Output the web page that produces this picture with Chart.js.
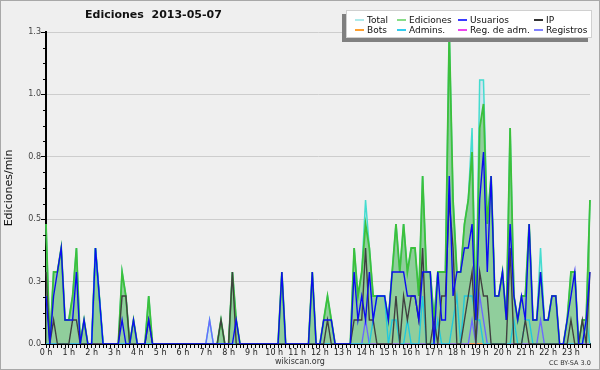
<!DOCTYPE html>
<html>
<head>
<meta charset="utf-8">
<script src="https://cdn.jsdelivr.net/npm/chart.js@4.4.0/dist/chart.umd.min.js"></script>
<style>
  html, body { margin: 0; padding: 0; background: #efefef; }
  #wrap { position: relative; width: 600px; height: 370px; background: #efefef; overflow: hidden; font-family: "DejaVu Sans", sans-serif; }
  #c { position: absolute; left: 0; top: 0; }
  #frame { position: absolute; left: 0; top: 0; width: 598px; height: 368px; border: 1px solid #a8a8a8; pointer-events: none; }
  #title { position: absolute; left: 85px; top: 8px; font-size: 11px; font-weight: bold; color: #111; white-space: pre; }
  #legend { position: absolute; left: 346px; top: 10px; width: 244px; height: 26px; background: #fff; border: 1px solid #d0d0d0; box-shadow: -4px 4px 0 #808080; font-size: 9px; color: #111; }
  .li { position: absolute; white-space: nowrap; line-height: 10px; }
  .li span.sw { position: absolute; left: -12px; top: 4px; width: 9px; height: 1.5px; }
  #foot1 { position: absolute; left: 0; width: 600px; top: 357px; text-align: center; font-size: 8px; color: #333; }
  #foot2 { position: absolute; left: 549px; top: 359px; font-size: 6.5px; color: #333; white-space: nowrap; }
</style>
</head>
<body>
<div id="wrap">
  <canvas id="c" width="600" height="370"></canvas>
  <div id="title">Ediciones  2013-05-07</div>
  <div id="legend"></div>
  <div id="foot1">wikiscan.org</div>
  <div id="foot2">CC BY-SA 3.0</div>
  <div id="frame"></div>
</div>
<script>
// ---- data: 10-minute slots, edits per minute ----
const hourLabels = ['0 h','1 h','2 h','3 h','4 h','5 h','6 h','7 h','8 h','9 h','10 h','11 h',
  '12 h','13 h','14 h','15 h','16 h','17 h','18 h','19 h','20 h','21 h','22 h','23 h'];
const yTickValues = [0, 0.26, 0.52, 0.78, 1.04, 1.3];

const total = [
 0.5,0,0.3,0.3,0.4,0.1,0.1,0.2,0.4,0,0.1,0,
 0,0.4,0.2,0,0,0,0,0,0.3,0.2,0,0.1,
 0,0,0,0.2,0,0,0,0,0,0,0,0,
 0,0,0,0,0,0,0,0.1,0,0,0.1,0,
 0,0.3,0.1,0,0,0,0,0,0,0,0,0,
 0,0,0.3,0,0,0,0,0,0,0,0.3,0,
 0,0.1,0.2,0.1,0,0,0,0,0,0.4,0.2,0.3,
 0.6,0.4,0.2,0.2,0.2,0.2,0.1,0.3,0.5,0.3,0.5,0.3,
 0.4,0.4,0.2,0.7,0.3,0.3,0.1,0.3,0.3,0.3,1.3,0.6,
 0.3,0.3,0.5,0.6,0.9,0.1,1.1,1.1,0.5,0.7,0.2,0.2,
 0.3,0.1,0.9,0.2,0.1,0.2,0.2,0.5,0.1,0.1,0.4,0.1,
 0.1,0.2,0.2,0,0,0.1,0.3,0.3,0,0.1,0.1,0.6];
const ediciones = [
 0.5,0,0.3,0.3,0.4,0.1,0.1,0.2,0.4,0,0.1,0,
 0,0.4,0.2,0,0,0,0,0,0.3,0.2,0,0.1,
 0,0,0,0.2,0,0,0,0,0,0,0,0,
 0,0,0,0,0,0,0,0,0,0,0.1,0,
 0,0.3,0.1,0,0,0,0,0,0,0,0,0,
 0,0,0.3,0,0,0,0,0,0,0,0.3,0,
 0,0.1,0.2,0.1,0,0,0,0,0,0.4,0.2,0.3,
 0.5,0.4,0.2,0.2,0.2,0.2,0.1,0.3,0.5,0.3,0.5,0.3,
 0.4,0.4,0.2,0.7,0.3,0.3,0.1,0.3,0.3,0.3,1.3,0.6,
 0.3,0.3,0.5,0.6,0.8,0.1,0.9,1.0,0.5,0.7,0.2,0.2,
 0.3,0.1,0.9,0.2,0.1,0.2,0.2,0.5,0.1,0.1,0.3,0.1,
 0.1,0.2,0.2,0,0,0.1,0.3,0.3,0,0.1,0.1,0.6];
const usuarios = [
 0.2,0,0.2,0.3,0.4,0.1,0.1,0.1,0.3,0,0.1,0,
 0,0.4,0.2,0,0,0,0,0,0.1,0,0,0.1,
 0,0,0,0.1,0,0,0,0,0,0,0,0,
 0,0,0,0,0,0,0,0,0,0,0,0,
 0,0,0.1,0,0,0,0,0,0,0,0,0,
 0,0,0.3,0,0,0,0,0,0,0,0.3,0,
 0,0.1,0.1,0.1,0,0,0,0,0,0.3,0.1,0.2,
 0.1,0.3,0.1,0.2,0.2,0.2,0.1,0.3,0.3,0.3,0.3,0.2,
 0.2,0.2,0.1,0.3,0.3,0.3,0,0.3,0.1,0.1,0.7,0.2,
 0.3,0.3,0.4,0.4,0.5,0.1,0.6,0.8,0.3,0.7,0.2,0.2,
 0.3,0.1,0.5,0.2,0.1,0.2,0.1,0.5,0.1,0.1,0.3,0.1,
 0.1,0.2,0.2,0,0,0.1,0.2,0.3,0,0,0.1,0.3];
const ip = [
 0.3,0,0.1,0,0,0,0,0.1,0.1,0,0,0,
 0,0,0,0,0,0,0,0,0.2,0.2,0,0,
 0,0,0,0.1,0,0,0,0,0,0,0,0,
 0,0,0,0,0,0,0,0,0,0,0.1,0,
 0,0.3,0,0,0,0,0,0,0,0,0,0,
 0,0,0,0,0,0,0,0,0,0,0,0,
 0,0,0.1,0,0,0,0,0,0,0.1,0.1,0.1,
 0.4,0.1,0.1,0,0,0,0,0,0.2,0,0.2,0.1,
 0.2,0.2,0.1,0.4,0,0,0.1,0,0.2,0.2,0.6,0.4,
 0,0,0.1,0.2,0.3,0,0.3,0.2,0.2,0,0,0,
 0,0,0.4,0,0,0,0.1,0,0,0,0,0,
 0,0,0,0,0,0,0.1,0,0,0.1,0,0.3];
const bots = [
 0,0,0,0,0,0,0,0,0,0,0,0, 0,0,0,0,0,0,0,0,0,0,0,0,
 0,0,0,0,0,0,0,0,0,0,0,0, 0,0,0,0,0,0,0,0,0,0,0,0,
 0,0,0,0,0,0,0,0,0,0,0,0, 0,0,0,0,0,0,0,0,0,0,0,0,
 0,0,0,0,0,0,0,0,0,0,0,0, 0,0,0,0,0,0,0,0,0,0,0,0,
 0,0,0,0,0,0,0,0,0,0,0,0, 0,0,0,0,0,0,0,0,0,0,0,0,
 0,0,0,0,0,0,0,0,0,0,0,0, 0,0,0,0,0,0,0,0,0,0,0,0];
const admins = [
 0,0,0,0,0,0,0,0,0,0,0,0,
 0,0.4,0.2,0,0,0,0,0,0,0,0,0,
 0,0,0,0,0,0,0,0,0,0,0,0,
 0,0,0,0,0,0,0,0,0,0,0,0,
 0,0,0,0,0,0,0,0,0,0,0,0,
 0,0,0,0,0,0,0,0,0,0,0,0,
 0,0,0,0,0,0,0,0,0,0,0,0,
 0,0,0.1,0.2,0.2,0.2,0,0.1,0.1,0,0,0.1,
 0,0,0,0.2,0,0,0,0.1,0,0,0,0.1,
 0.2,0,0.2,0.2,0.2,0.1,0.1,0,0,0,0,0,
 0,0,0,0.1,0,0,0.1,0.1,0,0,0,0,
 0,0,0,0,0,0,0,0,0,0,0.1,0];
const regAdm = [
 0,0,0,0,0,0,0,0,0,0,0,0, 0,0,0,0,0,0,0,0,0,0,0,0,
 0,0,0,0,0,0,0,0,0,0,0,0, 0,0,0,0,0,0,0,0,0,0,0,0,
 0,0,0,0,0,0,0,0,0,0,0,0, 0,0,0,0,0,0,0,0,0,0,0,0,
 0,0,0,0,0,0,0,0,0,0,0,0, 0,0,0,0,0,0,0,0,0,0,0,0,
 0,0,0,0,0,0,0,0,0,0,0,0, 0,0,0,0,0,0,0,0,0,0,0,0,
 0,0,0,0,0,0,0,0,0,0,0,0, 0,0,0,0,0,0,0,0,0,0,0,0];
const registros = [
 0,0,0,0,0,0,0,0,0,0,0,0,
 0,0,0,0,0,0,0,0,0,0,0,0,
 0,0,0,0,0,0,0,0,0,0,0,0,
 0,0,0,0,0,0,0,0.1,0,0,0,0,
 0,0,0,0,0,0,0,0,0,0,0,0,
 0,0,0,0,0,0,0,0,0,0,0,0,
 0,0,0,0,0,0,0,0,0,0,0,0,
 0.1,0,0,0,0,0,0,0,0,0,0,0,
 0,0,0,0,0,0,0,0,0,0,0,0,
 0,0,0,0,0.1,0,0.2,0.1,0,0,0,0,
 0,0,0,0,0,0,0,0,0,0,0.1,0,
 0,0,0,0,0,0,0,0,0,0,0,0];

// slot labels (10-minute steps) built from the hour labels
const slots = [];
hourLabels.forEach(h => { for (let m = 0; m < 60; m += 10) slots.push(h + (m ? ' ' + m : '')); });

const series = [
  { name: 'Total',        data: total,     color: '#44dccf', legend: '#aeeaea', fill: 'rgba(175,215,238,0.45)', order: 9, width: 1.5 },
  { name: 'Ediciones',    data: ediciones, color: '#3cc03c', legend: '#88dd88', fill: 'rgba(100,190,100,0.6)',  order: 8, width: 1.8 },
  { name: 'Usuarios',     data: usuarios,  color: '#0c0cf0', legend: '#3a3aff', fill: false, order: 2, width: 1.4 },
  { name: 'IP',           data: ip,        color: '#404040', legend: '#333333', fill: false, order: 3, width: 1.4 },
  { name: 'Bots',         data: bots,      color: '#ffa030', legend: '#ffa030', fill: false, order: 6, width: 1.4 },
  { name: 'Admins.',      data: admins,    color: '#22c8dc', legend: '#33ccee', fill: false, order: 4, width: 1.4 },
  { name: 'Reg. de adm.', data: regAdm,    color: '#ee44ee', legend: '#ee44ee', fill: false, order: 6, width: 1.4 },
  { name: 'Registros',    data: registros, color: '#6a6aff', legend: '#8080ff', fill: false, order: 5, width: 1.4 }
];

// legend (HTML)
const leg = document.getElementById('legend');
const colX = [20, 62, 123, 199];
const rowY = [4, 14];
series.forEach((s, k) => {
  const d = document.createElement('div');
  d.className = 'li';
  d.style.left = colX[k % 4] + 'px';
  d.style.top = rowY[Math.floor(k / 4)] + 'px';
  d.innerHTML = '<span class="sw" style="background:' + s.legend + '"></span>' + s.name;
  leg.appendChild(d);
});

const minorTicks = {
  id: 'minorTicks',
  afterDraw(chart) {
    const y = chart.scales.y, ctx = chart.ctx, left = chart.chartArea.left;
    ctx.save();
    ctx.strokeStyle = '#000';
    ctx.lineWidth = 1;
    for (let k = 0; k < yTickValues.length - 1; k++) {
      const a = yTickValues[k], b = yTickValues[k + 1];
      for (let j = 1; j < 4; j++) {
        const py = Math.round(y.getPixelForValue(a + (b - a) * j / 4)) + 0.5;
        ctx.beginPath(); ctx.moveTo(left - 3, py); ctx.lineTo(left, py); ctx.stroke();
      }
    }
    ctx.restore();
  }
};

Chart.defaults.font.family = '"DejaVu Sans", sans-serif';
new Chart(document.getElementById('c'), {
  type: 'line',
  data: {
    labels: slots,
    datasets: series.map(s => ({
      label: s.name, data: s.data, borderColor: s.color, backgroundColor: s.fill || 'transparent',
      fill: s.fill ? 'origin' : false, borderWidth: s.width, pointRadius: 0, tension: 0, order: s.order
    }))
  },
  options: {
    responsive: false, animation: false, devicePixelRatio: 1,
    layout: { padding: { top: 32, right: 10, left: 0, bottom: 0 } },
    plugins: { legend: { display: false }, tooltip: { enabled: false }, title: { display: false } },
    scales: {
      x: {
        type: 'category', offset: false, z: 1,
        grid: { drawOnChartArea: false, drawTicks: true, tickLength: 4, tickColor: '#000', color: '#000' },
        border: { color: '#000', width: 2 },
        ticks: { autoSkip: false, maxRotation: 0, minRotation: 0, padding: 0, color: '#222', font: { size: 8 },
          callback: (v, i) => (i % 6 === 0 ? hourLabels[i / 6] : '') },
        afterFit: s => { s.height = 26; }
      },
      y: {
        min: 0, max: 1.3,
        afterBuildTicks: s => { s.ticks = yTickValues.map(v => ({ value: v })); },
        grid: { color: '#cdcdcd', tickColor: '#000', tickLength: 5, lineWidth: 1 },
        border: { color: '#000', width: 2 },
        ticks: { padding: 0, color: '#444', font: { size: 8 }, callback: v => Number(v).toFixed(1) },
        title: { display: true, text: 'Ediciones/min', color: '#111', font: { size: 11 }, padding: { top: 3, bottom: 0 } },
        afterFit: s => { s.width = 46; }
      }
    }
  },
  plugins: [minorTicks]
});
</script>
</body>
</html>
